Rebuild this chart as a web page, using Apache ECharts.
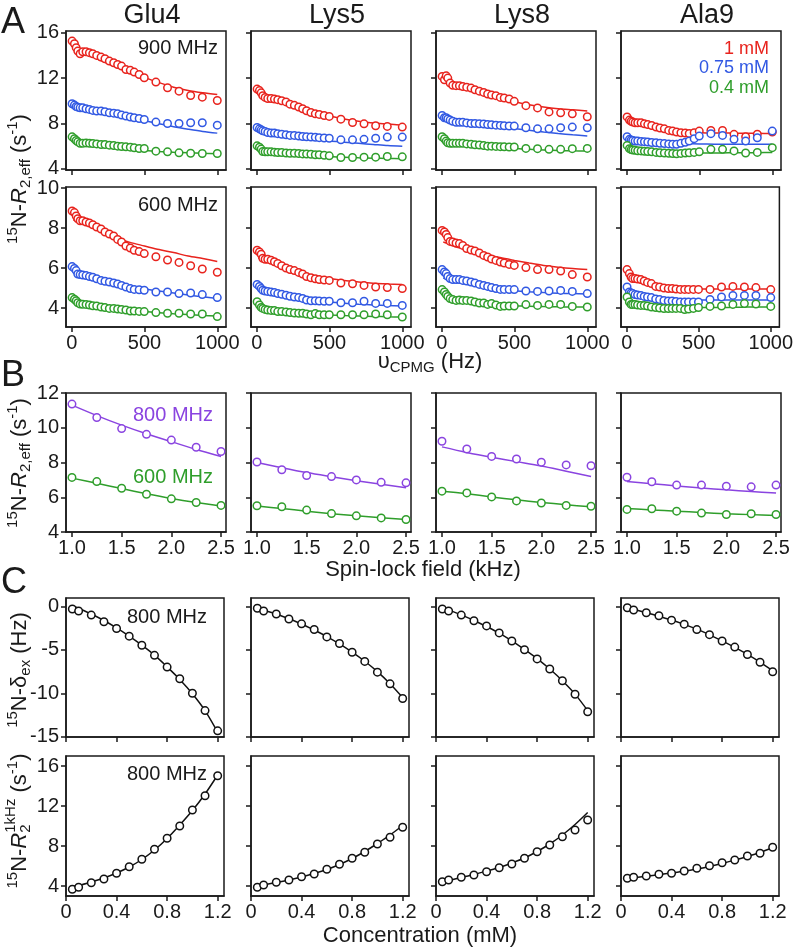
<!DOCTYPE html>
<html>
<head>
<meta charset="utf-8" />
<title>Relaxation dispersion panels</title>
<script src="https://cdn.jsdelivr.net/npm/echarts@6.0.0/dist/echarts.min.js"></script>
<style>html,body{margin:0;padding:0;background:#fff}</style>
</head>
<body>
<div id="main" style="width:796px;height:948px"></div>
<script>
// ---- data ----
const residues = ['Glu4', 'Lys5', 'Lys8', 'Ala9'];
const concNames = ['1 mM', '0.75 mM', '0.4 mM'];

// A: CPMG dispersion, x in Hz
const cpmgX = [2, 18, 30, 41, 57, 75, 98, 121, 144, 171, 201, 228, 258, 288, 315, 342, 372, 402, 429, 463, 498, 578, 658, 737, 817, 897, 1000];
const cpmgFitX = [10, 50, 100, 200, 300, 400, 500, 600, 700, 800, 900, 1000];
const cpmgTicks = [0, 500, 1000];

// 900 MHz, one array per residue
const r900_1mM = [
  [15.26, 15.03, 14.68, 14.38, 14.15, 14.32, 14.32, 14.24, 14.15, 14.0, 13.85, 13.7, 13.5, 13.35, 13.2, 13.06, 12.76, 12.68, 12.53, 12.32, 12.03, 11.65, 11.15, 10.85, 10.47, 10.32, 10.03],
  [11.03, 10.9, 10.7, 10.45, 10.3, 10.2, 10.2, 10.15, 10.1, 10.0, 9.9, 9.7, 9.6, 9.45, 9.3, 9.12, 8.97, 8.85, 8.8, 8.7, 8.62, 8.38, 8.09, 7.97, 7.8, 7.74, 7.68],
  [12.15, 11.85, 12.2, 12.0, 11.56, 11.36, 11.33, 11.33, 11.25, 11.2, 11.12, 10.97, 10.85, 10.74, 10.6, 10.5, 10.45, 10.3, 10.25, 10.16, 9.95, 9.57, 9.37, 9.02, 8.94, 8.85, 8.59],
  [8.58, 8.3, 8.2, 8.12, 8.06, 8.06, 8.06, 7.97, 7.9, 7.82, 7.68, 7.6, 7.53, 7.39, 7.33, 7.24, 7.18, 7.15, 7.12, 7.18, 7.33, 7.39, 7.39, 7.04, 6.83, 7.05, 7.24]
];
const r900_075mM = [
  [9.74, 9.62, 9.5, 9.44, 9.38, 9.38, 9.3, 9.24, 9.15, 9.09, 9.09, 9.03, 8.94, 8.91, 8.85, 8.74, 8.65, 8.56, 8.5, 8.44, 8.35, 8.12, 8.0, 8.0, 8.06, 8.06, 7.85],
  [7.65, 7.53, 7.44, 7.35, 7.3, 7.2, 7.15, 7.15, 7.1, 7.05, 7.0, 6.95, 6.95, 6.9, 6.85, 6.82, 6.8, 6.78, 6.75, 6.72, 6.7, 6.56, 6.56, 6.6, 6.7, 6.8, 6.8],
  [8.7, 8.5, 8.5, 8.4, 8.3, 8.2, 8.1, 8.1, 8.1, 8.05, 8.0, 8.0, 7.98, 7.95, 7.9, 7.88, 7.85, 7.83, 7.8, 7.78, 7.77, 7.62, 7.53, 7.53, 7.62, 7.68, 7.62],
  [6.83, 6.6, 6.55, 6.5, 6.45, 6.45, 6.42, 6.4, 6.37, 6.32, 6.3, 6.25, 6.23, 6.2, 6.16, 6.16, 6.25, 6.35, 6.45, 6.66, 6.89, 7.1, 6.95, 6.6, 6.45, 6.74, 7.33]
];
const r900_04mM = [
  [6.82, 6.65, 6.5, 6.38, 6.26, 6.26, 6.29, 6.26, 6.24, 6.2, 6.15, 6.15, 6.09, 6.06, 6.0, 5.97, 5.94, 5.91, 5.85, 5.79, 5.79, 5.56, 5.5, 5.41, 5.38, 5.35, 5.35],
  [6.03, 5.9, 5.74, 5.53, 5.5, 5.5, 5.5, 5.47, 5.44, 5.44, 5.4, 5.38, 5.38, 5.35, 5.32, 5.3, 5.29, 5.24, 5.24, 5.2, 5.15, 5.0, 5.0, 5.03, 5.03, 5.09, 5.06],
  [6.83, 6.65, 6.45, 6.3, 6.25, 6.25, 6.25, 6.25, 6.25, 6.2, 6.16, 6.12, 6.1, 6.05, 6.0, 6.0, 5.98, 5.96, 5.95, 5.93, 5.93, 5.8, 5.78, 5.72, 5.72, 5.78, 5.8],
  [6.07, 5.78, 5.7, 5.66, 5.63, 5.6, 5.58, 5.55, 5.53, 5.5, 5.45, 5.42, 5.4, 5.37, 5.35, 5.33, 5.36, 5.39, 5.42, 5.45, 5.5, 5.72, 5.72, 5.58, 5.4, 5.45, 5.87]
];
const fit900_1mM = [
  [14.5, 14.35, 14.1, 13.55, 13.0, 12.5, 12.05, 11.6, 11.2, 10.9, 10.7, 10.55],
  [10.8, 10.5, 10.2, 9.75, 9.35, 8.95, 8.65, 8.4, 8.2, 8.05, 7.95, 7.85],
  [11.8, 11.5, 11.3, 10.9, 10.5, 10.15, 9.9, 9.65, 9.45, 9.3, 9.2, 9.1],
  [8.3, 8.0, 7.8, 7.45, 7.28, 7.2, 7.18, 7.16, 7.15, 7.14, 7.13, 7.12]
];
const fit900_075mM = [
  [9.65, 9.45, 9.25, 8.95, 8.68, 8.45, 8.25, 7.98, 7.72, 7.5, 7.3, 7.15],
  [7.55, 7.35, 7.2, 6.95, 6.75, 6.6, 6.45, 6.35, 6.25, 6.15, 6.05, 6.0],
  [8.6, 8.4, 8.25, 8.05, 7.85, 7.7, 7.55, 7.4, 7.25, 7.12, 7.0, 6.9],
  [6.75, 6.55, 6.45, 6.32, 6.26, 6.22, 6.2, 6.18, 6.17, 6.16, 6.16, 6.16]
];
const fit900_04mM = [
  [6.7, 6.4, 6.25, 6.0, 5.85, 5.72, 5.62, 5.53, 5.46, 5.41, 5.37, 5.34],
  [5.9, 5.6, 5.5, 5.35, 5.25, 5.15, 5.08, 5.02, 4.97, 4.94, 4.92, 4.9],
  [6.7, 6.4, 6.25, 6.1, 5.98, 5.88, 5.8, 5.72, 5.67, 5.62, 5.59, 5.57],
  [5.85, 5.6, 5.5, 5.45, 5.42, 5.4, 5.4, 5.4, 5.41, 5.42, 5.43, 5.45]
];

// 600 MHz
const r600_1mM = [
  [8.85, 8.77, 8.6, 8.46, 8.36, 8.36, 8.3, 8.25, 8.16, 8.05, 7.95, 7.8, 7.7, 7.6, 7.43, 7.3, 7.1, 7.0, 6.89, 6.82, 6.72, 6.56, 6.4, 6.28, 6.11, 5.95, 5.79],
  [6.89, 6.8, 6.69, 6.49, 6.44, 6.44, 6.39, 6.31, 6.23, 6.11, 6.0, 5.92, 5.87, 5.78, 5.7, 5.57, 5.51, 5.46, 5.42, 5.4, 5.38, 5.25, 5.21, 5.13, 5.05, 5.02, 4.97],
  [7.88, 7.8, 7.68, 7.52, 7.33, 7.3, 7.25, 7.22, 7.13, 6.97, 6.9, 6.85, 6.75, 6.63, 6.55, 6.45, 6.38, 6.3, 6.25, 6.18, 6.13, 6.02, 5.92, 5.92, 5.85, 5.67, 5.55],
  [5.92, 5.72, 5.55, 5.47, 5.47, 5.45, 5.42, 5.35, 5.28, 5.22, 5.08, 5.05, 5.0, 4.97, 4.97, 4.95, 4.93, 4.93, 4.93, 4.93, 4.93, 4.93, 5.05, 5.08, 5.05, 5.02, 4.92]
];
const r600_075mM = [
  [6.07, 5.98, 5.87, 5.7, 5.67, 5.65, 5.62, 5.57, 5.54, 5.46, 5.38, 5.34, 5.3, 5.25, 5.2, 5.13, 5.05, 4.97, 4.93, 4.91, 4.89, 4.8, 4.8, 4.72, 4.75, 4.67, 4.52],
  [5.18, 5.08, 4.97, 4.89, 4.85, 4.83, 4.8, 4.77, 4.72, 4.69, 4.64, 4.59, 4.55, 4.52, 4.48, 4.4, 4.36, 4.36, 4.35, 4.34, 4.34, 4.26, 4.26, 4.34, 4.23, 4.23, 4.13],
  [5.92, 5.8, 5.72, 5.58, 5.47, 5.42, 5.42, 5.42, 5.38, 5.35, 5.3, 5.25, 5.18, 5.13, 5.08, 5.02, 4.97, 4.93, 4.93, 4.92, 4.92, 4.85, 4.83, 4.85, 4.88, 4.83, 4.72],
  [5.05, 4.8, 4.75, 4.72, 4.67, 4.65, 4.63, 4.58, 4.55, 4.52, 4.45, 4.42, 4.38, 4.35, 4.35, 4.33, 4.3, 4.3, 4.3, 4.3, 4.3, 4.43, 4.55, 4.63, 4.63, 4.63, 4.52]
];
const r600_04mM = [
  [4.52, 4.44, 4.36, 4.26, 4.2, 4.19, 4.18, 4.15, 4.11, 4.1, 4.05, 4.02, 3.98, 3.98, 3.95, 3.93, 3.9, 3.85, 3.85, 3.83, 3.82, 3.77, 3.74, 3.74, 3.7, 3.7, 3.57],
  [4.31, 4.15, 4.03, 3.98, 3.93, 3.9, 3.88, 3.87, 3.82, 3.82, 3.8, 3.77, 3.75, 3.74, 3.74, 3.7, 3.66, 3.72, 3.66, 3.66, 3.66, 3.66, 3.66, 3.66, 3.7, 3.66, 3.55],
  [4.92, 4.8, 4.68, 4.58, 4.47, 4.42, 4.38, 4.4, 4.38, 4.38, 4.35, 4.3, 4.25, 4.25, 4.18, 4.22, 4.15, 4.08, 4.1, 4.1, 4.1, 4.17, 4.13, 4.18, 4.18, 4.08, 4.05],
  [4.55, 4.3, 4.18, 4.18, 4.18, 4.15, 4.13, 4.13, 4.1, 4.05, 4.02, 4.0, 3.97, 3.97, 3.98, 3.98, 3.98, 3.92, 3.95, 3.98, 4.02, 4.08, 4.1, 4.18, 4.22, 4.2, 4.08]
];
const fit600_1mM = [
  [8.4, 8.35, 8.2, 7.8, 7.5, 7.28, 7.1, 6.92, 6.77, 6.6, 6.47, 6.33],
  [6.5, 6.4, 6.25, 6.0, 5.78, 5.6, 5.47, 5.37, 5.3, 5.24, 5.2, 5.17],
  [7.3, 7.2, 7.05, 6.88, 6.7, 6.52, 6.38, 6.25, 6.13, 6.04, 5.97, 5.92],
  [5.55, 5.4, 5.25, 5.08, 5.0, 4.97, 4.95, 4.95, 4.95, 4.95, 4.95, 4.95]
];
const fit600_075mM = [
  [5.95, 5.8, 5.65, 5.45, 5.25, 5.1, 4.95, 4.85, 4.75, 4.65, 4.56, 4.48],
  [5.0, 4.85, 4.75, 4.6, 4.48, 4.38, 4.3, 4.24, 4.19, 4.15, 4.12, 4.1],
  [5.5, 5.4, 5.3, 5.15, 5.02, 4.93, 4.86, 4.81, 4.77, 4.74, 4.72, 4.7],
  [4.75, 4.6, 4.5, 4.43, 4.4, 4.4, 4.4, 4.4, 4.4, 4.4, 4.4, 4.4]
];
const fit600_04mM = [
  [4.45, 4.3, 4.2, 4.08, 3.98, 3.9, 3.82, 3.76, 3.71, 3.67, 3.63, 3.6],
  [4.1, 3.95, 3.88, 3.8, 3.74, 3.69, 3.65, 3.62, 3.6, 3.58, 3.56, 3.55],
  [4.6, 4.45, 4.38, 4.28, 4.2, 4.15, 4.11, 4.09, 4.07, 4.06, 4.05, 4.05],
  [4.3, 4.15, 4.08, 4.03, 4.02, 4.02, 4.02, 4.03, 4.03, 4.04, 4.05, 4.05]
];

// B: spin-lock, x in kHz
const slX = [1.0, 1.25, 1.5, 1.75, 2.0, 2.25, 2.5];
const slTicks = [1.0, 1.5, 2.0, 2.5];
const sl800 = [
  [11.36, 10.59, 9.95, 9.62, 9.29, 8.88, 8.63],
  [8.03, 7.58, 7.25, 7.19, 7.0, 6.86, 6.83],
  [9.22, 8.78, 8.35, 8.2, 8.02, 7.86, 7.81],
  [7.15, 6.89, 6.7, 6.7, 6.64, 6.6, 6.7]
];
const slFit800 = [
  [11.3, 10.7, 10.15, 9.65, 9.2, 8.75, 8.35],
  [8.0, 7.7, 7.42, 7.18, 6.95, 6.75, 6.55],
  [8.9, 8.58, 8.3, 8.05, 7.8, 7.5, 7.2],
  [6.9, 6.78, 6.65, 6.53, 6.43, 6.33, 6.25]
];
const sl600 = [
  [7.14, 6.9, 6.52, 6.17, 5.91, 5.7, 5.53],
  [5.51, 5.45, 5.26, 5.06, 4.93, 4.81, 4.72],
  [6.35, 6.25, 6.02, 5.79, 5.67, 5.53, 5.48],
  [5.3, 5.34, 5.2, 5.09, 5.01, 5.05, 5.01]
];
const slFit600 = [
  [7.1, 6.8, 6.5, 6.2, 5.93, 5.7, 5.5],
  [5.5, 5.35, 5.2, 5.05, 4.93, 4.82, 4.72],
  [6.35, 6.2, 6.02, 5.85, 5.7, 5.57, 5.45],
  [5.35, 5.27, 5.2, 5.12, 5.05, 5.0, 4.95]
];

// C: titration, x in mM
const concX = [0.05, 0.1, 0.2, 0.3, 0.4, 0.5, 0.6, 0.7, 0.8, 0.9, 1.0, 1.1, 1.2];
const concTicks = [0, 0.4, 0.8, 1.2];
const dex = [
  [-0.27, -0.5, -0.97, -1.74, -2.52, -3.41, -4.46, -5.62, -6.98, -8.33, -10.0, -12.0, -14.34],
  [-0.19, -0.5, -0.85, -1.43, -1.98, -2.64, -3.49, -4.26, -5.27, -6.32, -7.56, -8.91, -10.6],
  [-0.27, -0.5, -0.97, -1.63, -2.22, -3.03, -3.97, -4.98, -6.03, -7.2, -8.56, -10.12, -12.14],
  [-0.12, -0.39, -0.7, -1.05, -1.56, -2.02, -2.65, -3.23, -3.97, -4.67, -5.53, -6.42, -7.51]
];
const dexFit = [
  [0.1, -0.2, -0.85, -1.6, -2.45, -3.4, -4.45, -5.6, -6.95, -8.4, -10.05, -12.0, -14.5],
  [-0.15, -0.4, -0.85, -1.4, -2.0, -2.7, -3.45, -4.3, -5.25, -6.3, -7.5, -8.9, -10.5],
  [-0.15, -0.4, -0.95, -1.6, -2.3, -3.05, -3.95, -4.95, -6.0, -7.2, -8.55, -10.1, -12.0],
  [-0.1, -0.3, -0.7, -1.1, -1.55, -2.05, -2.6, -3.25, -3.95, -4.7, -5.5, -6.4, -7.4]
];
const r2k = [
  [3.67, 3.87, 4.33, 4.7, 5.27, 5.93, 6.67, 7.67, 8.77, 10.0, 11.6, 13.03, 15.03],
  [3.87, 4.1, 4.37, 4.6, 4.93, 5.2, 5.67, 6.17, 6.77, 7.37, 8.2, 8.87, 9.87],
  [4.43, 4.6, 4.87, 5.1, 5.43, 5.83, 6.2, 6.77, 7.43, 8.1, 8.93, 9.6, 10.6],
  [4.77, 4.87, 5.0, 5.17, 5.27, 5.5, 5.77, 6.03, 6.33, 6.6, 7.0, 7.27, 7.87]
];
const r2kFit = [
  [3.95, 4.05, 4.4, 4.8, 5.3, 5.9, 6.65, 7.6, 8.75, 10.1, 11.55, 13.2, 15.1],
  [3.95, 4.1, 4.35, 4.6, 4.9, 5.25, 5.65, 6.15, 6.75, 7.45, 8.25, 9.1, 10.05],
  [4.4, 4.55, 4.85, 5.15, 5.5, 5.85, 6.3, 6.8, 7.45, 8.2, 9.1, 10.15, 11.35],
  [4.75, 4.82, 4.98, 5.13, 5.3, 5.48, 5.7, 5.95, 6.25, 6.6, 6.95, 7.35, 7.85]
];

// y tick values per row
const yTicks900 = [4, 8, 12, 16];
const yTicks600 = [4, 6, 8, 10];
const yTicksSL = [4, 6, 8, 10, 12];
const yTicksDex = [-15, -10, -5, 0];
const yTicksR2 = [4, 8, 12, 16];

// ---- layout / style ----
const INK = '#1a1a1a';
const FONT = '"Liberation Sans", Arial, Helvetica, sans-serif';
const RED = '#e8231d', BLUE = '#3158e3', GREEN = '#2f9e2b', PURPLE = '#8a44e0', BLACK = '#111';
const TICK_FONT = 20;

const colLeft = [66, 251, 436, 621];
const rows = [
  {top: 31, h: 139, w: 160, x: [-40, 1060], xt: cpmgTicks, xl: false, y: [3.9, 16.15], yt: yTicks900},
  {top: 187, h: 140, w: 160, x: [-40, 1060], xt: cpmgTicks, xl: true, y: [3.05, 10.05], yt: yTicks600},
  {top: 393, h: 139, w: 160, x: [0.94, 2.55], xt: slTicks, xl: true, fmt: v => v.toFixed(1), y: [4, 12], yt: yTicksSL},
  {top: 598, h: 139, w: 158, x: [0, 1.25], xt: concTicks, xl: false, y: [-15.05, 1.0], yt: yTicksDex},
  {top: 756, h: 140, w: 158, x: [0, 1.25], xt: concTicks, xl: true, y: [3, 17], yt: yTicksR2}
];

const grids = [], xAxes = [], yAxes = [], series = [];
const tickStyle = {color: INK, width: 1.5};
rows.forEach((r, ri) => {
  colLeft.forEach((left, ci) => {
    const gi = ri * 4 + ci;
    grids.push({left: left, top: r.top, width: r.w, height: r.h, show: true, borderColor: INK, borderWidth: 1.5});
    xAxes.push({
      type: 'value', gridIndex: gi, min: r.x[0], max: r.x[1],
      axisLine: {show: true, onZero: false, lineStyle: tickStyle},
      axisTick: {show: true, inside: false, length: 5, customValues: r.xt, lineStyle: tickStyle},
      axisLabel: {show: r.xl, customValues: r.xt, margin: 6, fontSize: TICK_FONT, color: INK, fontFamily: FONT,
        formatter: r.fmt || (v => String(v))},
      splitLine: {show: false}
    });
    yAxes.push({
      type: 'value', gridIndex: gi, min: r.y[0], max: r.y[1],
      axisLine: {show: true, onZero: false, lineStyle: tickStyle},
      axisTick: {show: true, inside: false, length: 5, customValues: r.yt, lineStyle: tickStyle},
      axisLabel: {show: ci === 0, customValues: r.yt, margin: 7, fontSize: TICK_FONT, color: INK, fontFamily: FONT},
      splitLine: {show: false}
    });
  });
});

function pts(gi, xs, ys, color) {
  series.push({
    type: 'scatter', xAxisIndex: gi, yAxisIndex: gi, z: 3, silent: true,
    data: xs.map((x, i) => [x, ys[i]]),
    symbol: 'circle', symbolSize: 7.5,
    itemStyle: {color: '#fff', borderColor: color, borderWidth: 1.5, opacity: 1}
  });
}
function fit(gi, xs, ys, color) {
  series.push({
    type: 'line', xAxisIndex: gi, yAxisIndex: gi, z: 2, silent: true,
    data: xs.map((x, i) => [x, ys[i]]),
    showSymbol: false, smooth: 0.3,
    lineStyle: {color: color, width: 1.5}
  });
}

residues.forEach((res, c) => {
  [[r900_1mM, fit900_1mM, RED], [r900_075mM, fit900_075mM, BLUE], [r900_04mM, fit900_04mM, GREEN]]
    .forEach(([d, f, col]) => { fit(c, cpmgFitX, f[c], col); pts(c, cpmgX, d[c], col); });
  [[r600_1mM, fit600_1mM, RED], [r600_075mM, fit600_075mM, BLUE], [r600_04mM, fit600_04mM, GREEN]]
    .forEach(([d, f, col]) => { fit(4 + c, cpmgFitX, f[c], col); pts(4 + c, cpmgX, d[c], col); });
  fit(8 + c, slX, slFit800[c], PURPLE); pts(8 + c, slX, sl800[c], PURPLE);
  fit(8 + c, slX, slFit600[c], GREEN); pts(8 + c, slX, sl600[c], GREEN);
  fit(12 + c, concX, dexFit[c], BLACK); pts(12 + c, concX, dex[c], BLACK);
  fit(16 + c, concX, r2kFit[c], BLACK); pts(16 + c, concX, r2k[c], BLACK);
});

// ---- text ----
const measureCtx = document.createElement('canvas').getContext('2d');
function textWidth(t, size, italic) {
  measureCtx.font = (italic ? 'italic ' : '') + size + 'px ' + FONT;
  return measureCtx.measureText(t).width;
}
// pieces laid out left to right, optionally rotated to read bottom-up
function compound(parts, cx, cy, vertical, base) {
  let pos = 0;
  const kids = parts.map(p => {
    const size = p.size || base;
    const el = {type: 'text', x: pos, y: p.dy || 0, style: {
      text: p.t, fontSize: size, fontFamily: FONT, fontStyle: p.italic ? 'italic' : 'normal',
      fill: INK, align: 'left', verticalAlign: 'middle'}};
    if (!p.stack) pos += textWidth(p.t, size, p.italic);
    return el;
  });
  kids.forEach(k => { k.x -= pos / 2; });
  return {type: 'group', x: cx, y: cy, rotation: vertical ? Math.PI / 2 : 0, children: kids};
}
function label(t, x, y, opts) {
  opts = opts || {};
  return {type: 'text', x: x, y: y, style: {
    text: t, fontSize: opts.size || 20, fontFamily: FONT, fill: opts.color || INK,
    align: opts.align || 'center', verticalAlign: 'middle'}};
}

const SM = 15;
const r2effName = [{t: '15', size: SM, dy: -7}, {t: 'N-'}, {t: 'R', italic: true}, {t: '2,eff', size: SM, dy: 6},
  {t: ' (s'}, {t: '-1', size: SM, dy: -7}, {t: ')'}];
const dexName = [{t: '15', size: SM, dy: -7}, {t: 'N-δ'}, {t: 'ex', size: SM, dy: 6}, {t: ' (Hz)'}];
const r2kName = [{t: '15', size: SM, dy: -7}, {t: 'N-'}, {t: 'R', italic: true}, {t: '2', size: SM, dy: 6, stack: true},
  {t: '1kHz', size: SM, dy: -9}, {t: ' (s'}, {t: '-1', size: SM, dy: -7}, {t: ')'}];

const graphics = [
  label('A', 13, 23, {size: 36}),
  label('B', 13, 376, {size: 36}),
  label('C', 14, 583, {size: 36}),
  label('900 MHz', 218, 48, {align: 'right'}),
  label('600 MHz', 218, 205, {align: 'right'}),
  label('800 MHz', 213, 415, {align: 'right', color: PURPLE}),
  label('600 MHz', 213, 477, {align: 'right', color: GREEN}),
  label('800 MHz', 207, 617, {align: 'right'}),
  label('800 MHz', 207, 774, {align: 'right'}),
  label(concNames[0], 769, 49, {align: 'right', size: 18, color: RED}),
  label(concNames[1], 769, 68, {align: 'right', size: 18, color: BLUE}),
  label(concNames[2], 769, 88, {align: 'right', size: 18, color: GREEN}),
  compound(r2effName, 20, 179, true, 22),
  compound(r2effName, 20, 463, true, 22),
  compound(dexName, 20, 670, true, 22),
  compound(r2kName, 20, 821, true, 22),
  compound([{t: 'υ'}, {t: 'CPMG', size: SM, dy: 6}, {t: ' (Hz)'}], 430, 362, false, 22),
  compound([{t: 'Spin-lock field (kHz)'}], 423, 570, false, 22),
  compound([{t: 'Concentration (mM)'}], 420, 936, false, 22)
];
residues.forEach((res, c) => graphics.push(label(res, colLeft[c] + 86, 16, {size: 27})));

const chart = echarts.init(document.getElementById('main'));
chart.setOption({
  animation: false,
  backgroundColor: '#fff',
  grid: grids,
  xAxis: xAxes,
  yAxis: yAxes,
  series: series,
  graphic: graphics
});
</script>
</body>
</html>
